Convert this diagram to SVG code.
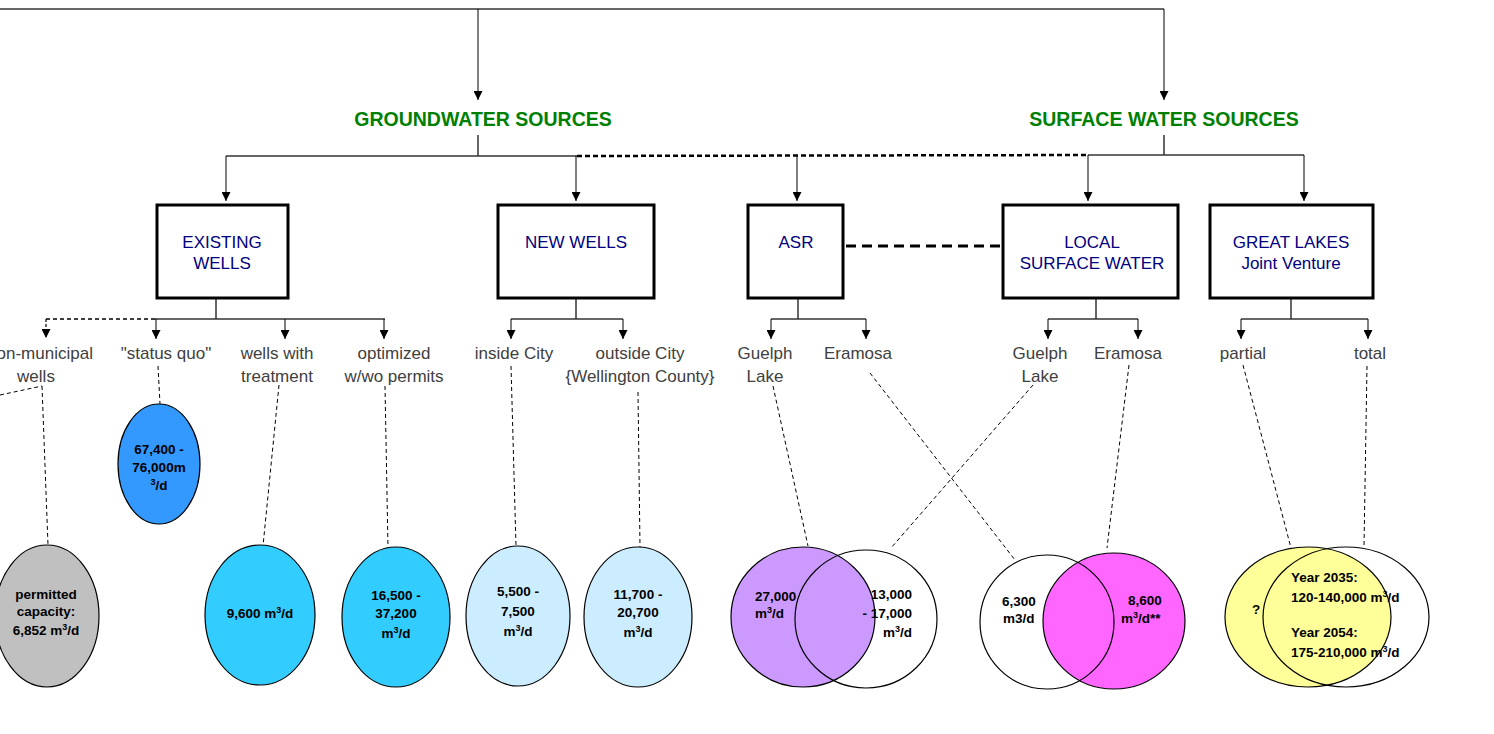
<svg xmlns="http://www.w3.org/2000/svg" width="1494" height="734" viewBox="0 0 1494 734">
<defs>
<marker id="ah" viewBox="0 0 10 10" refX="10" refY="5" markerWidth="9" markerHeight="9" markerUnits="userSpaceOnUse" orient="auto">
<path d="M0,0 L10,5 L0,10 z" fill="#000"/>
</marker>
</defs>
<style>
.ln{stroke:#333;stroke-width:1.5;fill:none}
.ar{stroke:#000;stroke-width:1;fill:none;marker-end:url(#ah)}
.dt{stroke:#000;stroke-width:1;fill:none;stroke-dasharray:4 3}
.box{fill:#fff;stroke:#000;stroke-width:3}
.bt{font-family:"Liberation Sans",Arial,sans-serif;font-size:17px;fill:#000080;text-anchor:middle}
.hd{font-family:"Liberation Sans",Arial,sans-serif;font-size:19.5px;font-weight:bold;fill:#008000;text-anchor:middle}
.lb{font-family:"Liberation Sans",Arial,sans-serif;font-size:17px;fill:#404040;text-anchor:middle}
.vt{font-family:"Liberation Sans",Arial,sans-serif;font-size:13.5px;font-weight:bold;fill:#000}
.c{text-anchor:middle}
.sup{font-size:9px}
.el{stroke:#000;stroke-width:1.2}
</style>

<g id="connectors">
<line class="ln" x1="0" y1="9" x2="1164" y2="9"/>
<line class="ar" x1="478" y1="9" x2="478" y2="100"/>
<line class="ar" x1="1164" y1="9" x2="1164" y2="100"/>
<line class="ln" x1="478" y1="135" x2="478" y2="156"/>
<line class="ln" x1="1164" y1="135" x2="1164" y2="155"/>
<line class="ln" x1="226" y1="156" x2="577" y2="156"/>
<line x1="577" y1="156" x2="1088" y2="155" stroke="#000" stroke-width="2.5" stroke-dasharray="5 3"/>
<line class="ln" x1="1088" y1="155" x2="1304" y2="155"/>
<line class="ar" x1="226" y1="156" x2="226" y2="201"/>
<line class="ar" x1="576" y1="156" x2="576" y2="201"/>
<line class="ar" x1="797" y1="156" x2="797" y2="201"/>
<line class="ar" x1="1088" y1="155" x2="1088" y2="201"/>
<line class="ar" x1="1304" y1="155" x2="1304" y2="201"/>
<line x1="846" y1="246" x2="1000" y2="246" stroke="#000" stroke-width="3" stroke-dasharray="10 6"/>

<!-- existing wells branch -->
<line class="ln" x1="216" y1="298" x2="216" y2="319"/>
<line class="ln" x1="155" y1="319" x2="385" y2="319"/>
<line x1="46" y1="319" x2="155" y2="319" stroke="#000" stroke-width="1.5" stroke-dasharray="4 3"/>
<line x1="46" y1="319" x2="46" y2="338" stroke="#000" stroke-width="1.2" stroke-dasharray="3 2" marker-end="url(#ah)"/>
<line class="ar" x1="156" y1="319" x2="156" y2="339"/>
<line class="ar" x1="285" y1="319" x2="285" y2="339"/>
<line class="ar" x1="384" y1="319" x2="384" y2="339"/>
<!-- new wells branch -->
<line class="ln" x1="576" y1="298" x2="576" y2="319"/>
<line class="ln" x1="511" y1="319" x2="623" y2="319"/>
<line class="ar" x1="511" y1="319" x2="511" y2="339"/>
<line class="ar" x1="623" y1="319" x2="623" y2="339"/>
<!-- ASR branch -->
<line class="ln" x1="798" y1="298" x2="798" y2="319"/>
<line class="ln" x1="771" y1="319" x2="866" y2="319"/>
<line class="ar" x1="771" y1="319" x2="771" y2="339"/>
<line class="ar" x1="866" y1="319" x2="866" y2="339"/>
<!-- local branch -->
<line class="ln" x1="1096" y1="298" x2="1096" y2="319"/>
<line class="ln" x1="1048" y1="319" x2="1138" y2="319"/>
<line class="ar" x1="1048" y1="319" x2="1048" y2="339"/>
<line class="ar" x1="1138" y1="319" x2="1138" y2="339"/>
<!-- great lakes branch -->
<line class="ln" x1="1291" y1="298" x2="1291" y2="319"/>
<line class="ln" x1="1241" y1="319" x2="1368" y2="319"/>
<line class="ar" x1="1241" y1="319" x2="1241" y2="339"/>
<line class="ar" x1="1368" y1="319" x2="1368" y2="339"/>

<!-- dotted leaders -->
<line class="dt" x1="0" y1="395" x2="42" y2="386"/>
<line class="dt" x1="42" y1="386" x2="48" y2="545"/>
<line class="dt" x1="158" y1="366" x2="160" y2="404"/>
<line class="dt" x1="279" y1="385" x2="263" y2="546"/>
<line class="dt" x1="385" y1="386" x2="388" y2="548"/>
<line class="dt" x1="511" y1="366" x2="516" y2="546"/>
<line class="dt" x1="638" y1="392" x2="640" y2="547"/>
<line class="dt" x1="773" y1="386" x2="808" y2="546"/>
<line class="dt" x1="870" y1="373" x2="1015" y2="560"/>
<line class="dt" x1="1033" y1="385" x2="891" y2="548"/>
<line class="dt" x1="1129" y1="365" x2="1107" y2="548"/>
<line class="dt" x1="1243" y1="365" x2="1291" y2="548"/>
<line class="dt" x1="1367" y1="366" x2="1364" y2="547"/>
</g>

<g id="groundwater-sources"><text class="hd" x="483" y="126">GROUNDWATER SOURCES</text></g>
<g id="surface-water-sources"><text class="hd" x="1164" y="126">SURFACE WATER SOURCES</text></g>

<g id="existing-wells"><rect class="box" x="157" y="205" width="131" height="93"/><text class="bt" x="222" y="248">EXISTING</text><text class="bt" x="222" y="269">WELLS</text></g>
<g id="new-wells"><rect class="box" x="498" y="205" width="156" height="93"/><text class="bt" x="576" y="248">NEW WELLS</text></g>
<g id="asr"><rect class="box" x="748" y="205" width="95" height="93"/><text class="bt" x="796" y="248">ASR</text></g>
<g id="local-surface-water"><rect class="box" x="1003" y="205" width="175" height="93"/><text class="bt" x="1092" y="248">LOCAL</text><text class="bt" x="1092" y="269">SURFACE WATER</text></g>
<g id="great-lakes"><rect class="box" x="1210" y="205" width="163" height="93"/><text class="bt" x="1291" y="248">GREAT LAKES</text><text class="bt" x="1291" y="269">Joint Venture</text></g>

<g id="labels">
<text class="lb" x="40" y="359">non-municipal</text><text class="lb" x="36" y="382">wells</text>
<text class="lb" x="166" y="359">"status quo"</text>
<text class="lb" x="277" y="359">wells with</text><text class="lb" x="277" y="382">treatment</text>
<text class="lb" x="394" y="359">optimized</text><text class="lb" x="394" y="382">w/wo permits</text>
<text class="lb" x="514" y="359">inside City</text>
<text class="lb" x="640" y="359">outside City</text><text class="lb" x="640" y="382">{Wellington County}</text>
<text class="lb" x="765" y="359">Guelph</text><text class="lb" x="765" y="382">Lake</text>
<text class="lb" x="858" y="359">Eramosa</text>
<text class="lb" x="1040" y="359">Guelph</text><text class="lb" x="1040" y="382">Lake</text>
<text class="lb" x="1128" y="359">Eramosa</text>
<text class="lb" x="1243" y="359">partial</text>
<text class="lb" x="1370" y="359">total</text>
</g>

<g id="status-quo-value">
<ellipse class="el" cx="159" cy="464" rx="41" ry="60" fill="#3399FF"/>
<text class="vt c" x="159" y="454">67,400 -</text>
<text class="vt c" x="159" y="472">76,000m</text>
<text class="vt c" x="159" y="490"><tspan class="sup" dy="-5">3</tspan><tspan dy="5">/d</tspan></text>
</g>
<g id="permitted-capacity">
<ellipse class="el" cx="47" cy="616" rx="52" ry="71" fill="#C0C0C0"/>
<text class="vt c" x="46" y="599">permitted</text>
<text class="vt c" x="46" y="616">capacity:</text>
<text class="vt c" x="46" y="635">6,852 m<tspan class="sup" dy="-5">3</tspan><tspan dy="5">/d</tspan></text>
</g>
<g id="treatment-value">
<ellipse class="el" cx="260" cy="615" rx="55" ry="70" fill="#33CCFF"/>
<text class="vt c" x="260" y="618">9,600 m<tspan class="sup" dy="-5">3</tspan><tspan dy="5">/d</tspan></text>
</g>
<g id="optimized-value">
<ellipse class="el" cx="396" cy="617" rx="54" ry="70" fill="#33CCFF"/>
<text class="vt c" x="396" y="600">16,500 -</text>
<text class="vt c" x="396" y="618">37,200</text>
<text class="vt c" x="396" y="638">m<tspan class="sup" dy="-5">3</tspan><tspan dy="5">/d</tspan></text>
</g>
<g id="inside-city-value">
<ellipse class="el" cx="518" cy="616" rx="52" ry="70" fill="#CCECFF"/>
<text class="vt c" x="518" y="596">5,500 -</text>
<text class="vt c" x="518" y="616">7,500</text>
<text class="vt c" x="518" y="636">m<tspan class="sup" dy="-5">3</tspan><tspan dy="5">/d</tspan></text>
</g>
<g id="outside-city-value">
<ellipse class="el" cx="638" cy="617" rx="54" ry="70" fill="#CCECFF"/>
<text class="vt c" x="638" y="599">11,700 -</text>
<text class="vt c" x="638" y="617">20,700</text>
<text class="vt c" x="638" y="637">m<tspan class="sup" dy="-5">3</tspan><tspan dy="5">/d</tspan></text>
</g>
<g id="asr-values">
<ellipse class="el" cx="803" cy="617" rx="72" ry="70" fill="#CC99FF"/>
<ellipse class="el" cx="866" cy="619" rx="71" ry="69" fill="none"/>
<text class="vt" x="755" y="601">27,000</text>
<text class="vt" x="755" y="618">m<tspan class="sup" dy="-5">3</tspan><tspan dy="5">/d</tspan></text>
<text class="vt" x="912" y="599" text-anchor="end">13,000</text>
<text class="vt" x="912" y="618" text-anchor="end">- 17,000</text>
<text class="vt" x="912" y="637" text-anchor="end">m<tspan class="sup" dy="-5">3</tspan><tspan dy="5">/d</tspan></text>
</g>
<g id="local-values">
<ellipse class="el" cx="1114" cy="621" rx="71" ry="68" fill="#FF66FF"/>
<ellipse class="el" cx="1047" cy="622" rx="67" ry="67" fill="none"/>
<text class="vt" x="1002" y="606">6,300</text>
<text class="vt" x="1003" y="623">m3/d</text>
<text class="vt" x="1128" y="605">8,600</text>
<text class="vt" x="1121" y="623">m<tspan class="sup" dy="-5">3</tspan><tspan dy="5">/d**</tspan></text>
</g>
<g id="great-lakes-values">
<ellipse class="el" cx="1308" cy="617" rx="83" ry="70" fill="#FFFF99"/>
<ellipse class="el" cx="1346" cy="617" rx="83" ry="70" fill="none"/>
<text class="vt" x="1252" y="614">?</text>
<text class="vt" x="1291" y="582">Year 2035:</text>
<text class="vt" x="1291" y="602">120-140,000 m<tspan class="sup" dy="-5">3</tspan><tspan dy="5">/d</tspan></text>
<text class="vt" x="1291" y="637">Year 2054:</text>
<text class="vt" x="1291" y="657">175-210,000 m<tspan class="sup" dy="-5">3</tspan><tspan dy="5">/d</tspan></text>
</g>
</svg>
